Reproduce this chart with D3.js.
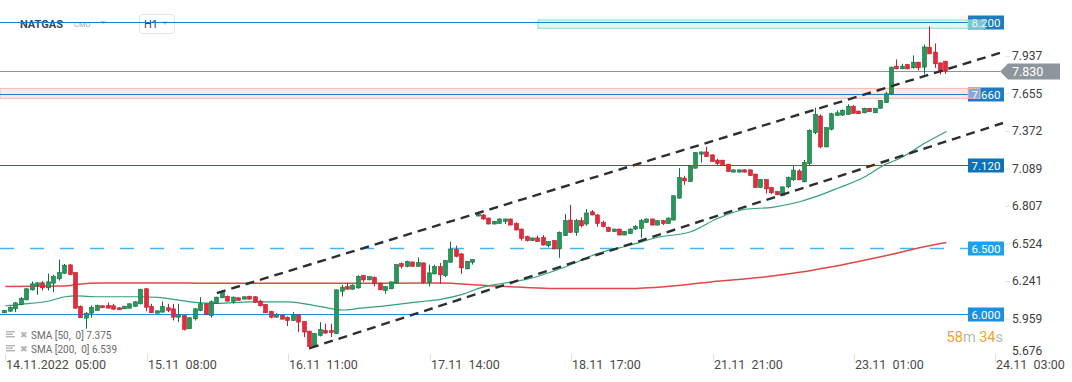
<!DOCTYPE html>
<html>
<head>
<meta charset="utf-8">
<script src="https://cdn.jsdelivr.net/npm/d3@7"></script>
<style>
  body { margin: 0; background: #fff; }
  svg { display: block; font-family: Roboto, "Noto Sans", sans-serif; }
</style>
</head>
<body>
<svg id="chart" width="1072" height="382"></svg>
<script>
// NATGAS H1 candles, [open, high, low, close]
const ohlc = [
  [6.009,6.030,6.005,6.027],[6.021,6.057,6.017,6.051],[6.039,6.089,6.014,6.084],[6.072,6.127,6.066,6.117],
  [6.107,6.194,6.102,6.190],[6.182,6.245,6.177,6.227],[6.214,6.239,6.145,6.235],[6.235,6.247,6.177,6.197],
  [6.197,6.305,6.177,6.242],[6.232,6.295,6.164,6.282],[6.265,6.410,6.252,6.312],[6.307,6.377,6.302,6.367],
  [6.370,6.377,6.295,6.297],[6.312,6.315,6.039,6.044],[6.057,6.064,5.970,5.972],[5.969,6.014,5.889,6.006],
  [6.006,6.064,5.972,6.051],[6.027,6.070,6.024,6.066],[6.062,6.064,6.045,6.047],[6.064,6.087,6.042,6.044],
  [6.062,6.077,6.034,6.036],[6.047,6.049,6.030,6.032],[6.039,6.061,6.037,6.059],[6.044,6.080,6.042,6.077],
  [6.057,6.095,6.055,6.092],[6.077,6.190,6.072,6.184],[6.190,6.197,6.021,6.051],[6.057,6.077,6.007,6.009],
  [6.006,6.026,6.004,6.024],[6.014,6.094,6.012,6.057],[6.047,6.077,6.014,6.027],[6.039,6.077,5.951,5.976],
  [5.976,6.077,5.939,5.994],[5.989,5.991,5.876,5.884],[5.889,5.974,5.887,5.972],[5.964,6.044,5.951,6.039],
  [6.027,6.127,6.021,6.077],[6.077,6.080,5.994,5.997],[5.989,6.102,5.972,6.092],[6.081,6.130,6.079,6.127],
  [6.122,6.169,6.120,6.164],[6.132,6.139,6.094,6.097],[6.094,6.132,6.077,6.127],[6.122,6.124,6.100,6.102],
  [6.112,6.132,6.110,6.130],[6.134,6.137,6.110,6.112],[6.130,6.134,6.085,6.087],[6.097,6.107,6.057,6.062],
  [6.072,6.074,6.007,6.009],[6.019,6.024,5.967,5.976],[5.976,6.006,5.972,5.997],[5.991,5.994,5.959,5.961],
  [5.974,5.982,5.909,5.951],[5.951,6.014,5.949,5.997],[5.994,5.997,5.864,5.939],[5.944,5.946,5.826,5.864],
  [5.871,5.873,5.731,5.756],[5.756,5.855,5.754,5.852],[5.839,5.939,5.831,5.882],[5.876,5.927,5.852,5.856],
  [5.876,5.927,5.826,5.861],[5.852,6.184,5.850,6.182],[6.172,6.220,6.132,6.202],[6.207,6.235,6.185,6.187],
  [6.187,6.224,6.182,6.217],[6.197,6.292,6.190,6.284],[6.290,6.292,6.242,6.257],[6.257,6.285,6.255,6.282],
  [6.277,6.282,6.209,6.227],[6.232,6.235,6.180,6.182],[6.177,6.209,6.152,6.207],[6.190,6.245,6.187,6.242],
  [6.235,6.375,6.227,6.372],[6.380,6.389,6.342,6.359],[6.359,6.402,6.352,6.395],[6.392,6.395,6.357,6.359],
  [6.359,6.427,6.357,6.387],[6.385,6.387,6.227,6.239],[6.239,6.372,6.207,6.310],[6.302,6.372,6.300,6.357],
  [6.357,6.385,6.227,6.295],[6.290,6.405,6.277,6.402],[6.390,6.545,6.388,6.490],[6.485,6.515,6.427,6.435],
  [6.453,6.460,6.302,6.347],[6.340,6.400,6.337,6.397],[6.390,6.412,6.372,6.410],[6.738,6.756,6.736,6.753],
  [6.746,6.753,6.708,6.716],[6.723,6.726,6.675,6.678],[6.678,6.700,6.675,6.698],[6.683,6.720,6.680,6.716],
  [6.698,6.718,6.678,6.716],[6.716,6.718,6.668,6.670],[6.682,6.690,6.630,6.633],[6.640,6.643,6.553,6.570],
  [6.583,6.590,6.547,6.553],[6.553,6.575,6.550,6.573],[6.573,6.590,6.543,6.545],[6.577,6.595,6.515,6.520],
  [6.515,6.547,6.502,6.545],[6.553,6.555,6.488,6.490],[6.490,6.622,6.423,6.615],[6.590,6.753,6.588,6.703],
  [6.708,6.823,6.613,6.615],[6.615,6.716,6.590,6.703],[6.703,6.728,6.652,6.665],[6.678,6.791,6.665,6.761],
  [6.770,6.783,6.744,6.746],[6.746,6.753,6.658,6.682],[6.690,6.703,6.652,6.658],[6.652,6.658,6.620,6.622],
  [6.622,6.642,6.620,6.640],[6.640,6.642,6.593,6.595],[6.595,6.625,6.593,6.622],[6.607,6.645,6.605,6.640],
  [6.640,6.670,6.633,6.658],[6.645,6.716,6.573,6.703],[6.690,6.718,6.688,6.716],[6.716,6.718,6.668,6.670],
  [6.670,6.705,6.668,6.703],[6.703,6.710,6.670,6.682],[6.682,6.726,6.680,6.723],[6.708,6.893,6.705,6.891],
  [6.873,7.099,6.870,7.028],[7.024,7.041,6.973,7.003],[6.998,7.117,6.995,7.114],[7.099,7.219,7.096,7.216],
  [7.204,7.224,7.141,7.221],[7.221,7.259,7.183,7.186],[7.199,7.201,7.146,7.148],[7.159,7.171,7.123,7.133],
  [7.159,7.161,7.119,7.121],[7.129,7.131,7.071,7.073],[7.069,7.088,7.067,7.086],[7.069,7.089,7.067,7.086],
  [7.086,7.091,7.066,7.069],[7.086,7.088,7.041,7.043],[7.054,7.056,6.951,6.953],[6.953,7.015,6.951,7.013],
  [7.013,7.015,6.908,6.943],[6.953,6.958,6.903,6.913],[6.923,6.925,6.896,6.898],[6.891,6.960,6.889,6.958],
  [6.958,7.036,6.948,7.028],[7.011,7.121,7.003,7.084],[7.078,7.091,7.009,7.011],[6.996,7.161,6.991,7.141],
  [7.133,7.392,7.116,7.384],[7.366,7.554,7.354,7.504],[7.492,7.504,7.249,7.259],[7.259,7.406,7.256,7.404],
  [7.392,7.516,7.384,7.509],[7.497,7.535,7.492,7.516],[7.499,7.542,7.492,7.535],[7.504,7.580,7.499,7.565],
  [7.565,7.574,7.510,7.512],[7.529,7.531,7.507,7.509],[7.516,7.554,7.512,7.550],[7.550,7.552,7.522,7.524],
  [7.516,7.552,7.514,7.550],[7.550,7.612,7.548,7.610],[7.592,7.674,7.590,7.659],[7.659,7.863,7.657,7.860],
  [7.867,7.918,7.845,7.847],[7.847,7.885,7.845,7.867],[7.880,7.885,7.843,7.847],[7.855,7.948,7.849,7.897],
  [7.897,7.899,7.835,7.855],[7.860,8.030,7.805,8.012],[8.010,8.168,7.958,7.960],[7.973,8.038,7.855,7.885],
  [7.892,7.895,7.805,7.830],[7.905,7.908,7.810,7.830]
]

// moving averages, [bar index, value]
const sma50 = [
  [0,6.062],[3,6.073],[8,6.098],[11,6.130],[13,6.137],[17,6.130],[24,6.130],[28,6.125],[34,6.092],
  [39,6.080],[45,6.092],[52,6.092],[58,6.055],[62,6.030],[65,6.042],[71,6.067],[76,6.092],[80,6.110],
  [84,6.148],[87,6.193],[97,6.273],[103,6.356],[109,6.457],[115,6.520],[120,6.578],[126,6.620],
  [131,6.721],[136,6.789],[141,6.804],[146,6.846],[149,6.884],[153,6.947],[158,7.034],[161,7.110],
  [165,7.185],[169,7.286],[173,7.375]
]
const sma200 = [
  [0,6.207],[11,6.211],[13,6.222],[18,6.233],[34,6.233],[37,6.231],[55,6.231],[80,6.233],[87,6.218],
  [93,6.205],[100,6.193],[116,6.193],[120,6.201],[130,6.243],[139,6.276],[146,6.314],[152,6.356],
  [159,6.414],[165,6.469],[168,6.499],[173,6.539]
]

// trend channel drawn by hand, [bar index, price]
const channelUpper = [[38.9, 6.158], [183.4, 7.974]]
const channelLower = [[56.0, 5.743], [183.4, 7.439]]

const timeTicks = [0, 26, 52, 78, 104, 130, 156, 182]
const timeLabels = ["14.11.2022  05:00", "15.11  08:00", "16.11  11:00", "17.11  14:00",
                    "18.11  17:00", "21.11  21:00", "23.11  01:00", "24.11  03:00"]
const priceTicks = [7.937, 7.655, 7.372, 7.089, 6.807, 6.524, 6.241, 5.959, 5.676]

const levels = [8.200, 7.660, 7.120, 6.500, 6.000]
const levelColors = ["#1e7cc2", "#1e7cc2", "#0b72b8", "#1aa3ec", "#1a8fe6"]
const zoneTeal = [8.153, 8.215]
const zonePink = [7.625, 7.700]
const lastPrice = 7.830

const width = 1072, height = 382

const svg = d3.select("#chart")
const x = d3.scaleLinear().domain([0, 182]).range([5.3, 995.4])
const y = d3.scaleLinear().domain([8.2, 6.0]).range([22, 314])

// header
const head = svg.append("g")
head.append("text").attr("x", 20).attr("y", 27.5)
    .attr("font-size", 11).attr("font-weight", "bold").attr("fill", "#3b4754").text("NATGAS")
head.append("text").attr("x", 74).attr("y", 27)
    .attr("font-size", 7.5).attr("fill", "#a3abb3").text("CMD")
head.append("path").attr("d", "M100,21 L106,21 L103,24.5 Z").attr("fill", "#c5ccd3")
head.append("rect").attr("x", 139.5).attr("y", 14.5).attr("width", 35).attr("height", 19).attr("rx", 3)
    .attr("fill", "#fff").attr("stroke", "#e2e2e2")
head.append("text").attr("x", 144).attr("y", 28).attr("font-size", 11).attr("fill", "#444").text("H1")
head.append("path").attr("d", "M162,21.5 L168,21.5 L165,25 Z").attr("fill", "#c0c0c0")

// zones
svg.append("rect")
    .attr("x", 0).attr("width", 980)
    .attr("y", y(zonePink[1])).attr("height", y(zonePink[0]) - y(zonePink[1]))
    .attr("fill", "#fde9e9").attr("stroke", "#f6b4b4")
svg.append("rect")
    .attr("x", 538).attr("width", 447)
    .attr("y", y(zoneTeal[1])).attr("height", y(zoneTeal[0]) - y(zoneTeal[1]))
    .attr("fill", "#e2f8f0").attr("stroke", "#86dcc6")

// horizontal levels
levels.forEach((v, i) => {
    const yy = Math.round(y(v)) + 0.5
    svg.append("line")
        .attr("x1", 0).attr("x2", 968).attr("y1", yy).attr("y2", yy)
        .attr("stroke", levelColors[i])
        .attr("stroke-width", v === 6.5 ? 1.4 : 1.1)
        .attr("stroke-dasharray", v === 6.5 ? "14,16" : null)
        .attr("opacity", v === 6.5 ? 0.8 : 1)
})

// last price line
const yLast = Math.round(y(lastPrice)) + 0.5
svg.append("line").attr("x1", 0).attr("x2", 1000).attr("y1", yLast).attr("y2", yLast)
    .attr("stroke", "#8a9399").attr("stroke-width", 1)

// moving averages
const smaLine = d3.line().x(d => x(d[0])).y(d => y(d[1])).curve(d3.curveMonotoneX)
svg.append("path").datum(sma200).attr("d", smaLine)
    .attr("fill", "none").attr("stroke", "#e04848").attr("stroke-width", 1.5)
svg.append("path").datum(sma50).attr("d", smaLine)
    .attr("fill", "none").attr("stroke", "#33a075").attr("stroke-width", 1.2)

// candles
const up = "#26985c", upEdge = "#136d3d", down = "#e22b3d", downEdge = "#c01f30"
const candles = svg.append("g")
candles.selectAll("line")
    .data(ohlc)
    .join("line")
        .attr("x1", (d, i) => Math.round(x(i)) - 0.5)
        .attr("x2", (d, i) => Math.round(x(i)) - 0.5)
        .attr("y1", d => y(d[1]))
        .attr("y2", d => y(d[2]))
        .attr("stroke", d => d[3] >= d[0] ? upEdge : downEdge)
        .attr("stroke-width", 1)
candles.selectAll("rect")
    .data(ohlc)
    .join("rect")
        .attr("x", (d, i) => Math.round(x(i)) - 2.5)
        .attr("width", 4)
        .attr("y", d => y(Math.max(d[0], d[3])))
        .attr("height", d => Math.max(1.5, Math.abs(y(d[0]) - y(d[3]))))
        .attr("fill", d => d[3] >= d[0] ? up : down)
        .attr("stroke", d => d[3] >= d[0] ? upEdge : downEdge)
        .attr("stroke-width", 0.6)

// channel
const chan = d3.line().x(d => x(d[0])).y(d => y(d[1]))
;[channelUpper, channelLower].forEach(c => {
    svg.append("path").datum(c).attr("d", chan)
        .attr("fill", "none").attr("stroke", "#2b2f33")
        .attr("stroke-width", 2.4).attr("stroke-dasharray", "9,6")
})

// level labels
levels.forEach((v, i) => {
    const yy = Math.round(y(v)) + 0.5
    svg.append("rect").attr("x", 968).attr("y", yy - 7).attr("width", 36).attr("height", 14)
        .attr("fill", levelColors[i])
    svg.append("text").attr("x", 986).attr("y", yy + 4.2)
        .attr("text-anchor", "middle").attr("font-size", 11.5).attr("fill", "#fff")
        .text(v.toFixed(3))
})
// zone edges overlapping their labels
svg.append("rect").attr("x", 968).attr("width", 12)
    .attr("y", y(zonePink[1])).attr("height", y(zonePink[0]) - y(zonePink[1]))
    .attr("fill", "rgba(253,225,225,0.45)").attr("stroke", "#f6b4b4")
svg.append("rect").attr("x", 968).attr("width", 17)
    .attr("y", y(zoneTeal[1])).attr("height", y(zoneTeal[0]) - y(zoneTeal[1]))
    .attr("fill", "rgba(215,246,235,0.55)").attr("stroke", "#86dcc6")

// price axis
const axisG = svg.append("g")
priceTicks.forEach(v => {
    const yy = Math.min(y(v) - 1, 350.5)
    if (y(v) < 340) {
        axisG.append("line").attr("x1", 1005).attr("x2", 1010).attr("y1", yy + 0.5).attr("y2", yy + 0.5)
            .attr("stroke", "#e4e4e4")
    }
    axisG.append("text").attr("x", 1012).attr("y", yy + 4.3)
        .attr("font-size", 12).attr("fill", "#3c3c3c").text(v.toFixed(3))
})

// last price tag
svg.append("path")
    .attr("d", `M1000,${yLast} L1008,${yLast - 8} L1060,${yLast - 8} L1060,${yLast + 8} L1008,${yLast + 8} Z`)
    .attr("fill", "#8d969c")
svg.append("text").attr("x", 1012).attr("y", yLast + 4.5)
    .attr("font-size", 12.5).attr("fill", "#fff").text(lastPrice.toFixed(3))

// time axis
timeTicks.forEach((t, i) => {
    const xx = Math.round(x(t)) + 0.5
    svg.append("line").attr("x1", xx).attr("x2", xx).attr("y1", 354).attr("y2", 361)
        .attr("stroke", "#e0e0e0")
    svg.append("text").attr("x", xx + 0.5).attr("y", 369)
        .attr("font-size", 12.5).attr("fill", "#4a4a4a")
        .style("white-space", "pre")
        .text(timeLabels[i])
})

// legend
const legend = [["SMA [50,  0] 7.375", 335], ["SMA [200,  0] 6.539", 349]]
legend.forEach(([label, ly]) => {
    for (let k = 0; k < 3; k++) {
        svg.append("rect").attr("x", 6).attr("y", ly - 4 + k * 2.5).attr("width", k === 1 ? 7 : 9).attr("height", 1.4)
            .attr("fill", "#b3b3b3")
    }
    svg.append("text").attr("x", 20).attr("y", ly + 3).attr("font-size", 9).attr("fill", "#b3b3b3").text("\u2716")
    svg.append("text").attr("x", 31).attr("y", ly + 3.5)
        .attr("font-size", 10).attr("fill", "#6a6a6a").style("white-space", "pre").text(label)
})

// countdown
const cd = svg.append("text").attr("x", 1003).attr("y", 342).attr("text-anchor", "end").attr("font-size", 14.5)
cd.append("tspan").attr("fill", "#f5a326").text("58")
cd.append("tspan").attr("fill", "#b9b9b9").text("m ")
cd.append("tspan").attr("fill", "#f5a326").text("34")
cd.append("tspan").attr("fill", "#b9b9b9").text("s")
</script>
</body>
</html>
